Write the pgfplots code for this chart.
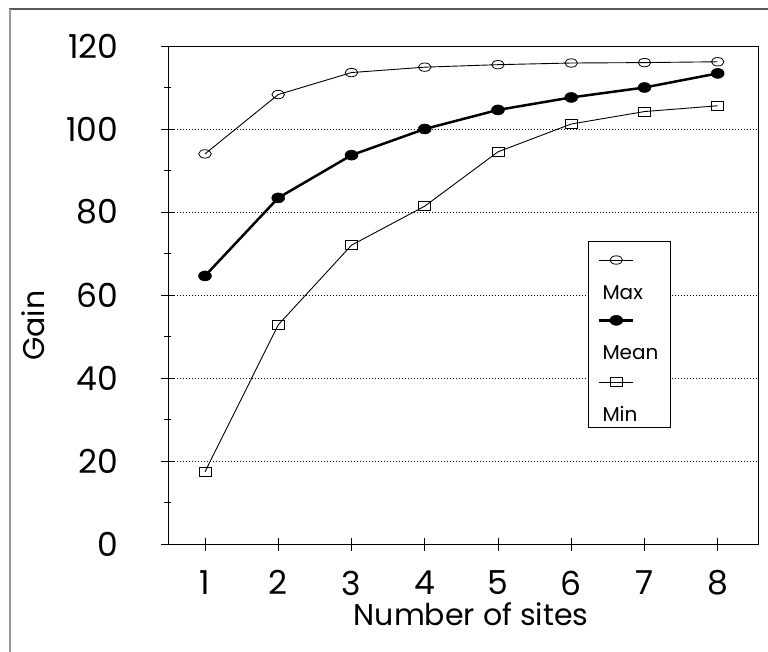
\documentclass[border=0pt]{standalone}
\usepackage{fontspec}
\setmainfont{Poppins}
\usepackage{pgfplots}
\pgfplotsset{compat=1.18}
\begin{document}
\begin{tikzpicture}
\path[use as bounding box] (-168bp,-108bp) rectangle (600bp,544bp);
\draw[gray!70!black, line width=1.2bp] (-159bp,535bp) -- (600bp,535bp);
\draw[gray!80, line width=2bp] (-158bp,535bp) -- (-158bp,-108bp);
\begin{axis}[
  scale only axis,
  width=590bp, height=498bp,
  xmin=0.495, xmax=8.55,
  ymin=0, ymax=120,
  xtick={1,...,8},
  ytick={0,20,...,120},
  minor y tick num=1,
  tick pos=left,
  tick align=center,
  major tick length=13bp,
  minor tick length=7bp,
  every tick/.style={black, line width=0.8bp},
  axis line style={black, line width=0.9bp},
  ymajorgrids,
  grid style={black, line width=0.7bp, dash pattern=on 1bp off 2bp},
  /pgf/number format/assume math mode=true,
  every tick label/.append style={font=\fontsize{33bp}{40bp}\selectfont, inner sep=0pt},
  yticklabel style={anchor=east, xshift=-43bp},
  xticklabel style={anchor=north, yshift=-20bp},
  xlabel={Number of sites},
  ylabel={Gain},
  label style={font=\fontsize{30bp}{36bp}\selectfont, inner sep=0pt},
  xlabel style={at={(axis description cs:0.5136,-0.1627)}, anchor=base},
  ylabel style={at={(axis description cs:-0.2085,0.438)}, anchor=base},
  legend style={at={(rel axis cs:0.7119,0.6084)}, anchor=north west, draw=black, line width=0.9bp,
    inner xsep=10bp, inner ysep=2bp, outer sep=0pt,
    font=\fontsize{20bp}{24bp}\selectfont,
    cells={anchor=base west},
    nodes={inner xsep=2bp, inner ysep=3bp},
    row sep=39bp},
  legend image code/.code={
    \path (0bp,0bp);
    \begin{scope}[overlay]
    \draw[mark repeat=2,mark phase=2,#1] plot coordinates {(0bp,39bp) (17bp,39bp) (34bp,39bp)};
    \end{scope}
  },
]
\addplot[black, line width=0.9bp, mark=o, mark size=4.2bp, mark options={xscale=1.5, line width=0.8bp, fill=white}]
  coordinates {(1,94.0) (2,108.3) (3,113.6) (4,114.9) (5,115.5) (6,115.9) (7,116.0) (8,116.2)};
\addlegendentry{\rule[-4bp]{0pt}{57bp}Max}
\addplot[black, line width=2.5bp, mark=*, mark size=5bp, mark options={xscale=1.3, line width=0.5bp}]
  coordinates {(1,64.6) (2,83.4) (3,93.7) (4,100.0) (5,104.6) (6,107.6) (7,110.0) (8,113.4)};
\addlegendentry{\rule[-4bp]{0pt}{14bp}Mean}
\addplot[black, line width=0.9bp, mark=square, mark size=4.5bp, mark options={xscale=1.33, line width=0.8bp, fill=white}]
  coordinates {(1,17.4) (2,52.8) (3,72.0) (4,81.4) (5,94.5) (6,101.2) (7,104.2) (8,105.6)};
\addlegendentry{\rule[-4bp]{0pt}{14bp}Min}
\end{axis}
\end{tikzpicture}
\end{document}
